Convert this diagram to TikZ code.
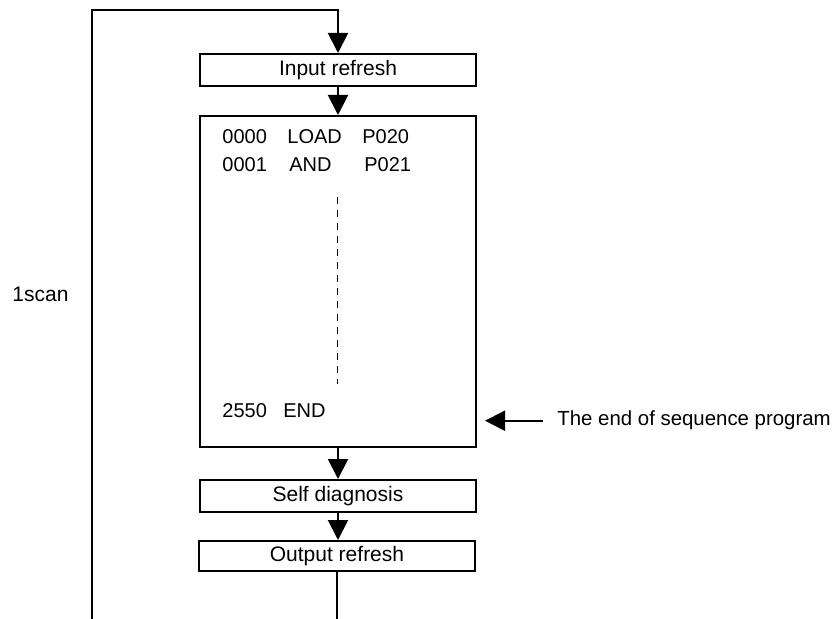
\documentclass[tikz,border=0pt]{standalone}
\usepackage{fontspec}
\setmainfont{Liberation Sans}
\usetikzlibrary{arrows.meta}

\tikzset{
  box/.style={draw, line width=1pt, minimum width=138pt, minimum height=16pt, inner sep=0pt, font=\fontsize{10.5}{12}\selectfont},
  flow/.style={line width=1pt, -{Triangle[length=10pt,width=10pt]}},
  listing/.style={anchor=base west, inner sep=0pt, font=\fontsize{10}{12}\selectfont},
}

\begin{document}
\begin{tikzpicture}[x=0.5pt, y=-0.5pt]
    \useasboundingbox (0,0) rectangle (834,619);

    \node[box] (inbox) at (338,70) {Input refresh};
    \node[box, minimum height=165.5pt] (prog) at (338,281.5) {};
    \node[box] (selfbox) at (338,496) {Self diagnosis};
    \node[box, minimum height=15pt] (outbox) at (337,556) {Output refresh};

    % program listing
    \node[listing] (addr0) at (222,144) {0000};
    \node[listing] (op0) at (287,144) {LOAD};
    \node[listing] (arg0) at (362,144) {P020};
    \node[listing] (addr1) at (222,172) {0001};
    \node[listing] (op1) at (289,172) {AND};
    \node[listing] (arg1) at (364,172) {P021};
    \node[listing] (addr2) at (222,417) {2550};
    \node[listing] (op2) at (283,417) {END};
    \coordinate (dottop) at (337,197);
    \coordinate (dotbot) at (337,384);
    \draw[line width=0.5pt, dash pattern=on 3.5pt off 3pt] (dottop) -- (dotbot);

    \draw[flow] (inbox) -- (prog);
    \draw[flow] (prog) -- (selfbox);
    \draw[flow] (selfbox.south) -- (selfbox.south |- outbox.north);

    % scan loop
    \coordinate (outend) at (337,619);
    \coordinate (loopbot) at (92,619);
    \coordinate (looptop) at (92,10);
    \draw[line width=1pt] (outbox.south) -- (outend);
    \draw[flow] (loopbot) -- (looptop) -| (inbox.north);
    \node[anchor=west, inner sep=0pt, font=\fontsize{10.5}{12}\selectfont] (scan) at (12,294) {1scan};

    \node[anchor=base west, inner sep=0pt, font=\fontsize{10.2}{12}\selectfont] (endnote) at (557,426) {The end of sequence program};
    \coordinate (endtip) at (485,423);
    \draw[flow] ([xshift=-7pt]endnote.west) -- (endnote.west -| endtip);
\end{tikzpicture}
\end{document}
